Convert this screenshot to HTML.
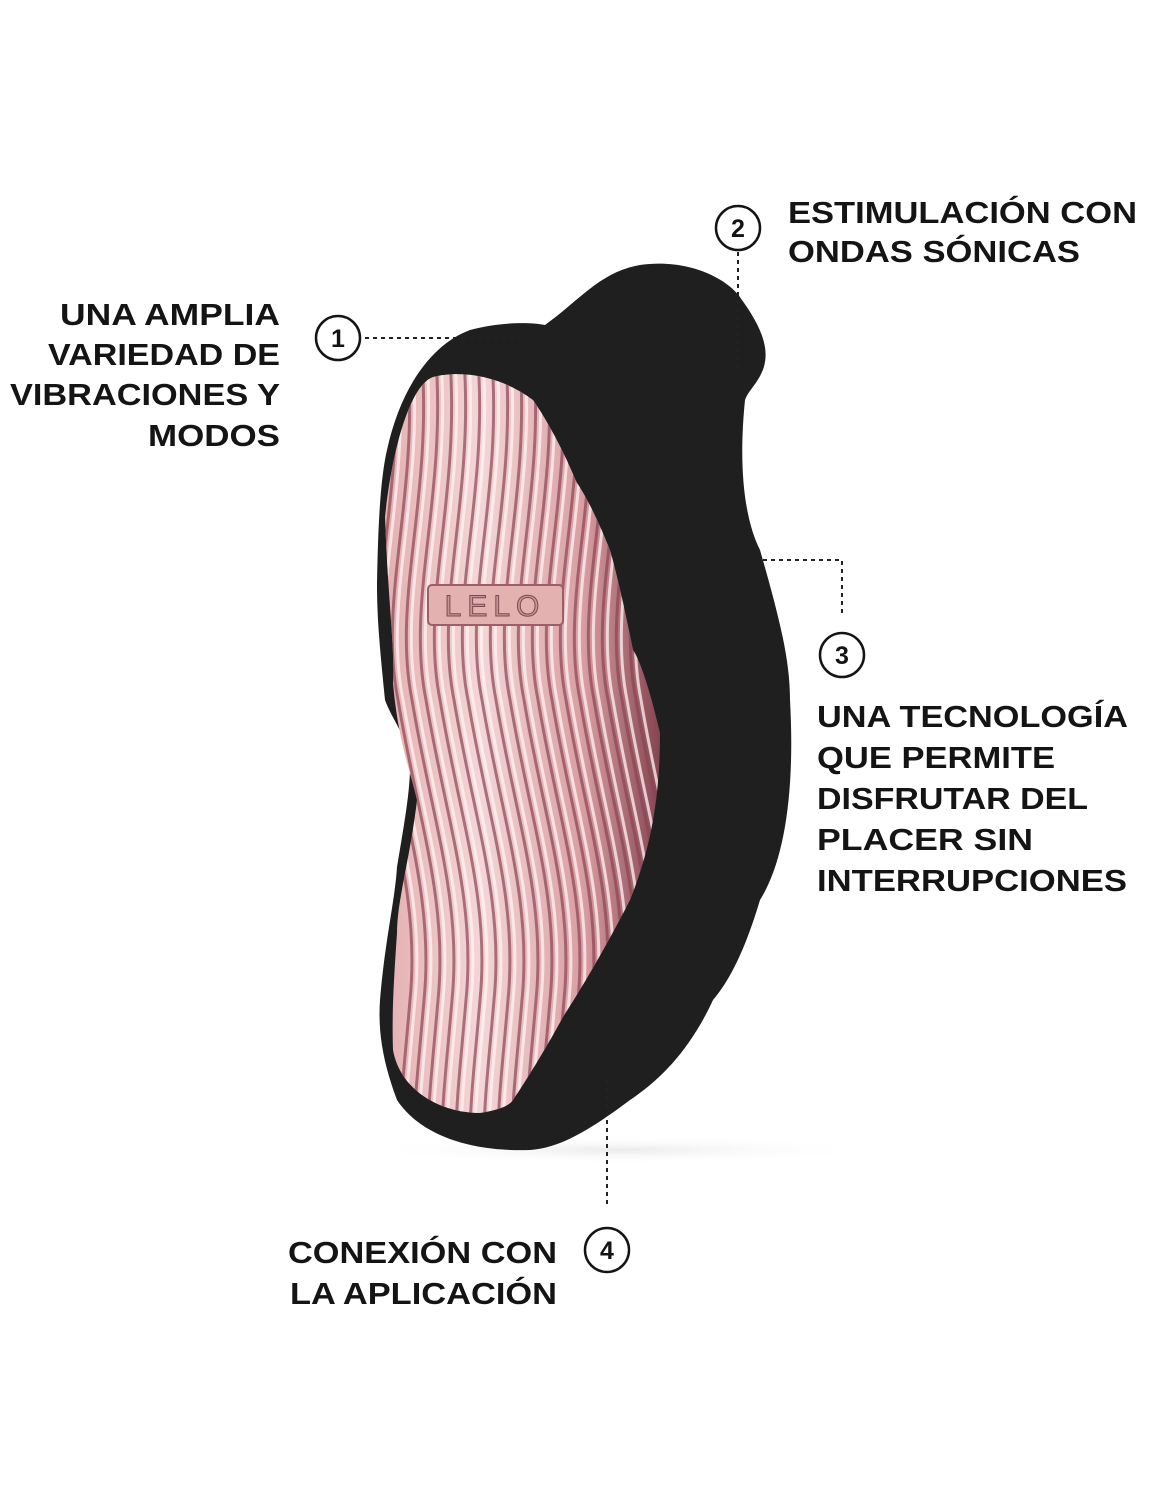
<!DOCTYPE html>
<html><head><meta charset="utf-8"><style>
html,body{margin:0;padding:0;background:#fff;}
svg{display:block;}
text{font-family:"Liberation Sans",sans-serif;font-weight:bold;fill:#141414;font-size:31px;}
.n{font-size:25px;text-anchor:middle;}
</style></head><body>
<svg width="1150" height="1495" viewBox="0 0 1150 1495" xmlns="http://www.w3.org/2000/svg">
<defs>
<linearGradient id="pk" x1="0" y1="0" x2="1" y2="0">
<stop offset="0" stop-color="#e4aeb0"/>
<stop offset="0.35" stop-color="#f4d6d6"/>
<stop offset="0.7" stop-color="#d99ea3"/>
<stop offset="1" stop-color="#7a3a46"/>
</linearGradient>
<path id="dk" d="M0,360 C10,500 -30,600 -10,700 C10,820 40,900 30,1000 C25,1060 20,1100 20,1140" fill="none" stroke="#8a4452" stroke-width="3" opacity="0.7"/>
<path id="lt" d="M5,360 C15,500 -25,600 -5,700 C15,820 45,900 35,1000 C30,1060 25,1100 25,1140" fill="none" stroke="#fff3f3" stroke-width="3" opacity="0.75"/>
<clipPath id="pc"><path d="M433,377 C410,385 392,450 385,517 C388,600 395,650 393,683 C398,740 410,770 417,800 C410,860 397,900 397,933 C393,990 392,1020 393,1050 C400,1090 440,1113 480,1113 C500,1110 510,1105 513,1100 C540,1060 563,1017 563,1017 C600,960 630,900 630,900 C650,850 660,800 660,733 C650,690 640,660 633,650 C620,583 610,550 610,550 C590,500 577,483 577,483 C555,430 533,400 533,400 C500,375 460,370 433,377 Z"/></clipPath>
<radialGradient id="sh" cx="0.5" cy="0.5" r="0.5"><stop offset="0" stop-color="#ddd" stop-opacity="0.6"/><stop offset="1" stop-color="#fff" stop-opacity="0"/></radialGradient>
</defs>
<ellipse cx="620" cy="1150" rx="260" ry="14" fill="url(#sh)"/>
<path d="M470,330 C500,322 530,322 545,325 C580,300 600,272 640,265 C690,258 730,280 742,300 C760,325 768,345 765,362 C762,380 748,390 745,400 C738,470 745,520 760,550 C780,620 790,660 790,700 C795,790 785,860 760,900 C745,950 730,980 713,1000 C690,1050 660,1080 630,1100 C590,1130 560,1148 530,1150 C470,1152 420,1135 397,1100 C382,1060 378,1030 380,1000 C385,940 395,900 397,867 C405,820 410,790 410,767 C410,740 392,720 385,700 C380,650 377,620 377,583 C378,530 380,480 387,450 C400,390 430,345 470,330 Z" fill="#1f1f1f"/>
<g clip-path="url(#pc)">
<rect x="380" y="370" width="290" height="750" fill="url(#pk)"/>
<g>
<use href="#dk" x="380"/><use href="#lt" x="380"/>
<use href="#dk" x="394"/><use href="#lt" x="394"/>
<use href="#dk" x="408"/><use href="#lt" x="408"/>
<use href="#dk" x="422"/><use href="#lt" x="422"/>
<use href="#dk" x="436"/><use href="#lt" x="436"/>
<use href="#dk" x="450"/><use href="#lt" x="450"/>
<use href="#dk" x="464"/><use href="#lt" x="464"/>
<use href="#dk" x="478"/><use href="#lt" x="478"/>
<use href="#dk" x="492"/><use href="#lt" x="492"/>
<use href="#dk" x="506"/><use href="#lt" x="506"/>
<use href="#dk" x="520"/><use href="#lt" x="520"/>
<use href="#dk" x="534"/><use href="#lt" x="534"/>
<use href="#dk" x="548"/><use href="#lt" x="548"/>
<use href="#dk" x="562"/><use href="#lt" x="562"/>
<use href="#dk" x="576"/><use href="#lt" x="576"/>
<use href="#dk" x="590"/><use href="#lt" x="590"/>
<use href="#dk" x="604"/><use href="#lt" x="604"/>
<use href="#dk" x="618"/><use href="#lt" x="618"/>
<use href="#dk" x="632"/><use href="#lt" x="632"/>
<use href="#dk" x="646"/><use href="#lt" x="646"/>
</g>
</g>
<rect x="428" y="585" width="135" height="40" rx="4" fill="#e2b1b0" stroke="#9a6066" stroke-width="2"/>
<text x="495" y="616" style="font-size:30px;fill:#c89496;stroke:#7a4a50;stroke-width:1;font-weight:normal;letter-spacing:6px" text-anchor="middle">LELO</text>
<g stroke="#222" stroke-width="2" stroke-dasharray="4,4" fill="none">
<line x1="365" y1="338" x2="525" y2="338"/>
<line x1="738" y1="252" x2="738" y2="370"/>
<polyline points="715,560 842,560 842,615"/>
<line x1="607" y1="1080" x2="607" y2="1208"/>
</g>
<g fill="#fff" stroke="#141414" stroke-width="2.5">
<circle cx="338" cy="338" r="22"/>
<circle cx="738" cy="228" r="22"/>
<circle cx="842" cy="655" r="22"/>
<circle cx="607" cy="1250" r="22"/>
</g>
<text class="n" x="338" y="347">1</text>
<text class="n" x="738" y="237">2</text>
<text class="n" x="842" y="664">3</text>
<text class="n" x="607" y="1259">4</text>
<text x="788" y="223" textLength="349" lengthAdjust="spacingAndGlyphs">ESTIMULACIÓN CON</text>
<text x="788" y="262" textLength="292" lengthAdjust="spacingAndGlyphs">ONDAS SÓNICAS</text>
<text x="60" y="325" textLength="220" lengthAdjust="spacingAndGlyphs">UNA AMPLIA</text>
<text x="48" y="365" textLength="232" lengthAdjust="spacingAndGlyphs">VARIEDAD DE</text>
<text x="10" y="405" textLength="270" lengthAdjust="spacingAndGlyphs">VIBRACIONES Y</text>
<text x="148" y="446" textLength="132" lengthAdjust="spacingAndGlyphs">MODOS</text>
<text x="817" y="727" textLength="311" lengthAdjust="spacingAndGlyphs">UNA TECNOLOGÍA</text>
<text x="817" y="768" textLength="238" lengthAdjust="spacingAndGlyphs">QUE PERMITE</text>
<text x="817" y="809" textLength="271" lengthAdjust="spacingAndGlyphs">DISFRUTAR DEL</text>
<text x="817" y="850" textLength="216" lengthAdjust="spacingAndGlyphs">PLACER SIN</text>
<text x="817" y="891" textLength="310" lengthAdjust="spacingAndGlyphs">INTERRUPCIONES</text>
<text x="288" y="1263" textLength="269" lengthAdjust="spacingAndGlyphs">CONEXIÓN CON</text>
<text x="290" y="1304" textLength="267" lengthAdjust="spacingAndGlyphs">LA APLICACIÓN</text>
</svg>
</body></html>
